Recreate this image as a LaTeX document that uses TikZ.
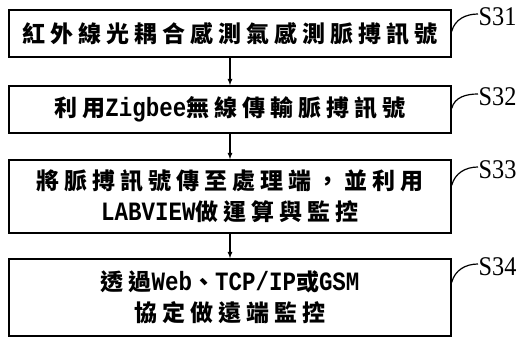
\documentclass[tikz,border=0pt]{standalone}
\usepackage{fontspec}
\setmainfont{Liberation Serif}
\newfontfamily\cjk[LetterSpace=22]{Noto Sans CJK TC}
\newfontfamily\mono[Scale=1.15,FakeStretch=0.85]{Liberation Mono}
\newfontfamily\tagfont[FakeStretch=0.9]{Liberation Serif}
\usepackage{tikz}
\usetikzlibrary{arrows}

\begin{document}
\begin{tikzpicture}[x=1pt, y=-1pt, every path/.style={line width=1.2pt}]

        \tikzset{stepbox/.style = {shape=rectangle, draw, line width=1.4pt, minimum width=442pt, align=center, inner sep=0pt, font=\fontsize{23}{31}\selectfont\bfseries}}
        \tikzset{edge/.style = {-latex}}
        \tikzset{tag/.style = {anchor=west, inner sep=0pt, font=\tagfont\fontsize{27}{27}\selectfont}}

        \useasboundingbox (0,0) rectangle (531,340);

        \node[stepbox, minimum height=47pt] (b1) at (230,33.5) {\cjk 紅外線光耦合感測氣感測脈搏訊號};
        \node[stepbox, minimum height=47pt] (b2) at (230,109.5) {{\cjk 利用}{\mono Zigbee}{\cjk 無線傳輸脈搏訊號}};
        \node[stepbox, minimum height=73pt] (b3) at (230,196.5) {{\cjk 將脈搏訊號傳至處理端，並利用}\\{\mono LABVIEW}{\cjk 做運算與監控}};
        \node[stepbox, minimum height=77pt] (b4) at (230,297.5) {{\cjk 透過}{\mono Web}{\cjk 、}{\mono TCP/IP}{\cjk 或}{\mono GSM}\\{\cjk 協定做遠端監控}};

        \node[tag] (s1) at (478,17) {S31};
        \node[tag] (s2) at (478,97) {S32};
        \node[tag] (s3) at (478,170) {S33};
        \node[tag] (s4) at (478,267) {S34};

        \draw[edge] (b1) to (b2);
        \draw[edge] (b2) to (b3);
        \draw[edge] (b3) to (b4);

        \coordinate (c1) at ([yshift=-22pt]b1.north east);
        \coordinate (c2) at ([yshift=-23pt]b2.north east);
        \coordinate (c3) at ([yshift=-26pt]b3.north east);
        \coordinate (c4) at ([yshift=-24pt]b4.north east);
        \draw (c1) to [out=75, in=180] ([yshift=3pt]s1.west);
        \draw (c2) to [out=75, in=180] ([yshift=3pt]s2.west);
        \draw (c3) to [out=75, in=180] ([yshift=3pt]s3.west);
        \draw (c4) to [out=75, in=180] ([yshift=3pt]s4.west);
	\end{tikzpicture}
\end{document}
